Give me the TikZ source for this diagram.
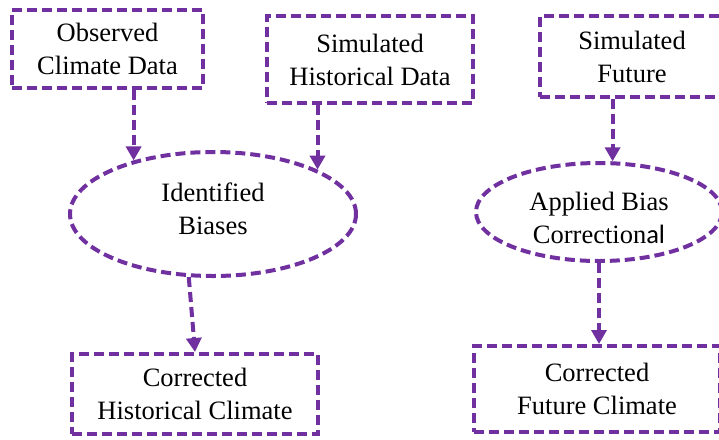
\documentclass[tikz,border=0pt]{standalone}
\usepackage{fontspec}
\setmainfont{Liberation Serif}
\newfontfamily\calfont{Carlito}
\usetikzlibrary{shapes.geometric,arrows.meta}
\definecolor{pur}{RGB}{112,48,160}
\newcommand{\shifttext}[2]{\raisebox{#1}[\height][\depth]{\begin{tabular}{@{}c@{}}#2\end{tabular}}}
\tikzset{
  every node/.style={font=\fontsize{26.5}{33}\selectfont, align=center, inner sep=0pt},
  dbox/.style={draw=pur, line width=4pt, dash pattern=on 10pt off 5pt, rectangle},
  dell/.style={draw=pur, line width=4pt, dash pattern=on 10pt off 5pt, ellipse},
  darr/.style={draw=pur, line width=4pt, dash pattern=on 10pt off 5pt, -{Triangle[length=14pt,width=15pt,fill=pur]}}
}
\begin{document}
\begin{tikzpicture}[x=1pt,y=-1pt]
\useasboundingbox (0,0) rectangle (719,439);
\node[dbox, minimum width=191pt, minimum height=78pt] (b1) at (107.5,49) {\shifttext{-2pt}{Observed\\Climate Data}};
\node[dbox, minimum width=206pt, minimum height=87pt] (b2) at (370,59.5) {Simulated\\Historical Data};
\node[dbox, minimum width=184pt, minimum height=81pt] (b3) at (632,56.5) {Simulated\\Future};
\node[dell, minimum width=286pt, minimum height=124pt] (e1) at (213,214) {\shifttext{3pt}{Identified\\Biases}};
\node[dell, minimum width=246pt, minimum height=98pt] (e2) at (599,212) {\shifttext{-8pt}{Applied Bias\\Correction{\calfont al}}};
\node[dbox, minimum width=246pt, minimum height=80pt] (b4) at (195,394) {Corrected\\Historical Climate};
\node[dbox, minimum width=246pt, minimum height=86pt] (b5) at (597,389) {Corrected\\Future Climate};
\draw[darr] (b1.south -| e1.146.8) -- (e1.146.8);
\draw[darr] (b2.south -| e1.23.5) -- (e1.23.5);
\draw[darr] (b3.south -| e2.75) -- (e2.75);
\draw[darr] (e1.249) -- (b4.north);
\draw[darr] (e2.south) -- (e2.south |- b5.north);
\end{tikzpicture}
\end{document}
